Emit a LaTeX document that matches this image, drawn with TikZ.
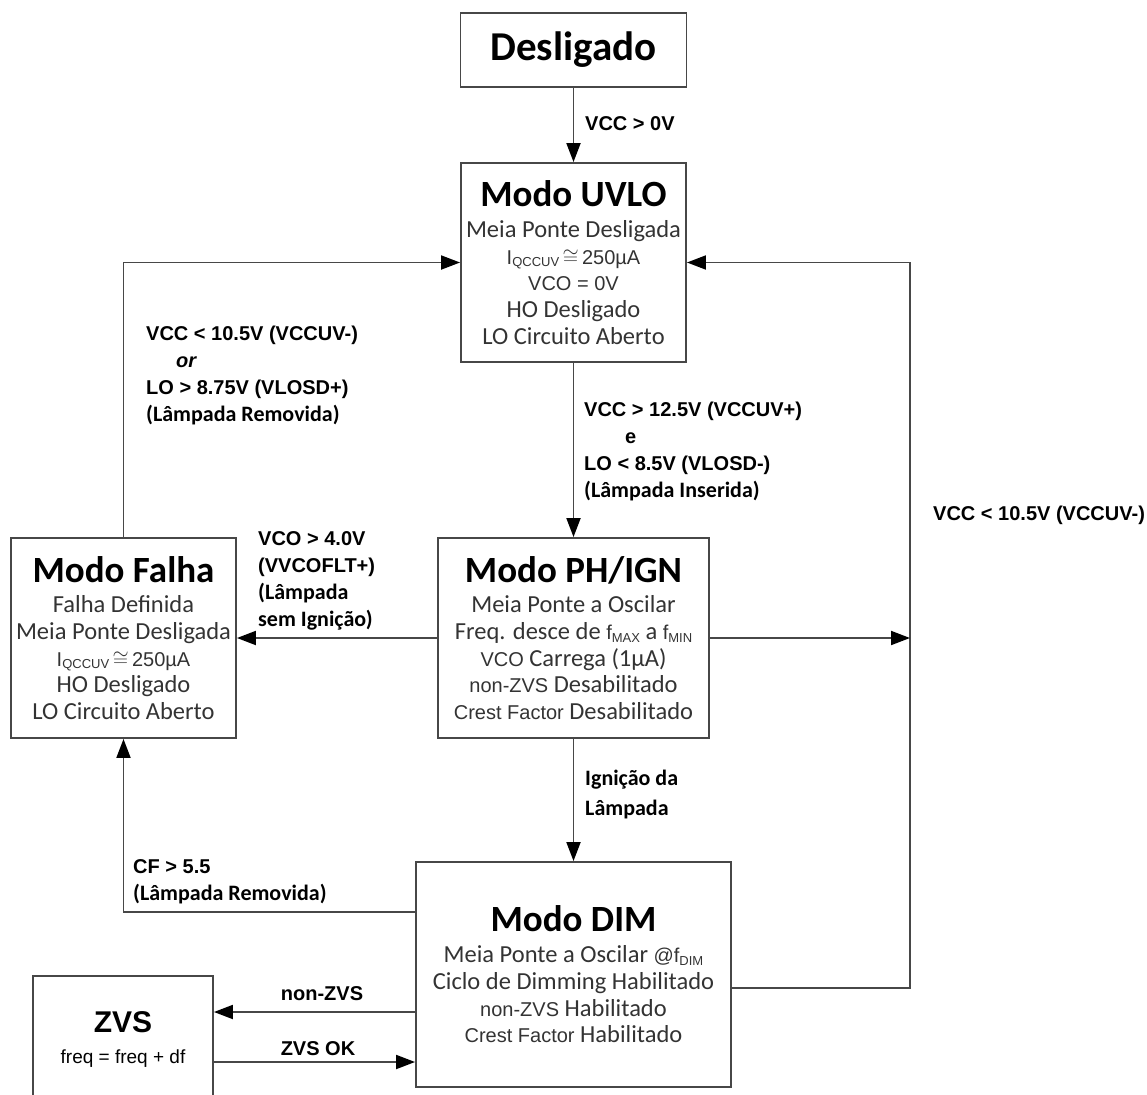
\documentclass[tikz,border=0pt]{standalone}
\usepackage{fontspec}
\setmainfont{Carlito}
\newfontfamily\arial{Liberation Sans}
\usetikzlibrary{arrows.meta}

\definecolor{ink}{HTML}{333333}
\definecolor{edge}{HTML}{474747}

\newcommand\ttl[1]{{\color{black}\bfseries\fontsize{37}{37}\selectfont #1}}
\newcommand\ar[1]{{\arial\fontsize{20}{26.7}\selectfont #1}}
\newcommand\sub[1]{\raisebox{-2.5pt}{\fontsize{13}{13}\selectfont #1}}
\newcommand\cb[1]{{\rmfamily\bfseries\fontsize{22}{26.7}\selectfont #1}}

\begin{document}
\begin{tikzpicture}[x=1pt,y=-1pt,
    box/.style={draw=edge,line width=1.9pt,inner sep=0pt,align=center,
      text=ink,font=\fontsize{24.5}{26.7}\selectfont},
    lbl/.style={align=left,inner sep=0pt,text=black,
      font=\arial\bfseries\fontsize{20}{26.7}\selectfont},
    arr/.style={-{Triangle[length=19pt,width=14pt,color=black]},line width=1.9pt,edge}]
  \useasboundingbox (0,0) rectangle (1147,1094);

  % states
  \node[box,minimum width=226,minimum height=74,text=black,
    font=\bfseries\fontsize{41}{41}\selectfont] (off) at (573.5,50) {Desligado};
  \node[box,minimum width=225,minimum height=199] (uvlo) at (573.5,262.5)
    {\ttl{Modo UVLO}\\[4pt]
     Meia Ponte Desligada\\
     \ar{I\sub{QCCUV}\,$\cong$\,250µA}\\
     \ar{VCO = 0V}\\
     HO Desligado\\
     LO Circuito Aberto};
  \node[box,minimum width=225,minimum height=200] (falha) at (123.5,638)
    {\ttl{Modo Falha}\\[4pt]
     Falha Definida\\
     Meia Ponte Desligada\\
     \ar{I\sub{QCCUV}\,$\cong$\,250µA}\\
     HO Desligado\\
     LO Circuito Aberto};
  \node[box,minimum width=271,minimum height=200] (ph) at (573.5,638)
    {\ttl{Modo PH/IGN}\\[4pt]
     Meia Ponte a Oscilar\\
     Freq. desce de \ar{f\sub{MAX}} a \ar{f\sub{MIN}}\\
     \ar{VCO} Carrega (1µA)\\
     \ar{non-ZVS} Desabilitado\\
     \ar{Crest Factor} Desabilitado};
  \node[box,minimum width=315,minimum height=225] (dim) at (573.5,974.5)
    {\ttl{Modo DIM}\\[4pt]
     Meia Ponte a Oscilar \ar{@f\sub{DIM}}\\
     Ciclo de Dimming Habilitado\\
     \ar{non-ZVS} Habilitado\\
     \ar{Crest Factor} Habilitado};
  \node[box,minimum width=180,anchor=north,text=black,
    font=\arial\fontsize{19}{31}\selectfont] (zvs) at (123,975)
    {\rule{0pt}{57pt}{\bfseries\fontsize{30}{30}\selectfont ZVS}\\
     freq = freq + df\rule[-66pt]{0pt}{66pt}};

  \coordinate (bus) at (910,262.5);

  % transitions
  \draw[arr] (off) -- (uvlo);
  \draw[arr] (uvlo) -- (ph);
  \draw[arr] (ph) -- (falha);
  \draw[arr] (falha.north) |- (uvlo.west);
  \draw[arr] ([yshift=-13.5pt]dim.east) -| (bus) -- (uvlo.east);
  \draw[arr] (ph.east) -- (ph.east -| bus);
  \draw[arr] (ph) -- (dim);
  \draw[arr] ([yshift=62.5pt]dim.west) -| (falha.south);
  \draw[arr] ([yshift=-37.5pt]dim.west) -- ([yshift=-37.5pt]dim.west -| zvs.east);
  \draw[arr] ([yshift=-87.5pt]dim.west -| zvs.east) -- ([yshift=-87.5pt]dim.west);

  % conditions (anchored at the base of their last line)
  \node[lbl,anchor=base west] (c0) at (585,131) {VCC > 0V};
  \node[lbl,anchor=base west] (c1) at (584,497)
    {VCC > 12.5V (VCCUV+)\\
     \hspace*{41pt}e\\
     LO < 8.5V (VLOSD-)\\
     \cb{(Lâmpada Inserida)}};
  \node[lbl,anchor=base west] (c2) at (146,421)
    {VCC < 10.5V (VCCUV-)\\
     \hspace*{30pt}\textit{or}\\
     LO > 8.75V (VLOSD+)\\
     \cb{(Lâmpada Removida)}};
  \node[lbl,anchor=base west] (c3) at (258,626)
    {VCO > 4.0V\\
     (VVCOFLT+)\\
     \cb{(Lâmpada}\\
     \cb{sem Ignição)}};
  \node[lbl,anchor=base west,font=\rmfamily\bfseries\fontsize{22}{30}\selectfont]
    (c4) at (585,815) {Ignição da\\Lâmpada};
  \node[lbl,anchor=base west] (c5) at (133,900)
    {CF > 5.5\\
     \cb{(Lâmpada Removida)}};
  \node[lbl,anchor=base west] (c6) at (933,520) {VCC < 10.5V (VCCUV-)};
  \node[lbl,anchor=base] (c7) at (322,1000) {non-ZVS};
  \node[lbl,anchor=base] (c8) at (318,1055) {ZVS OK};
\end{tikzpicture}
\end{document}
